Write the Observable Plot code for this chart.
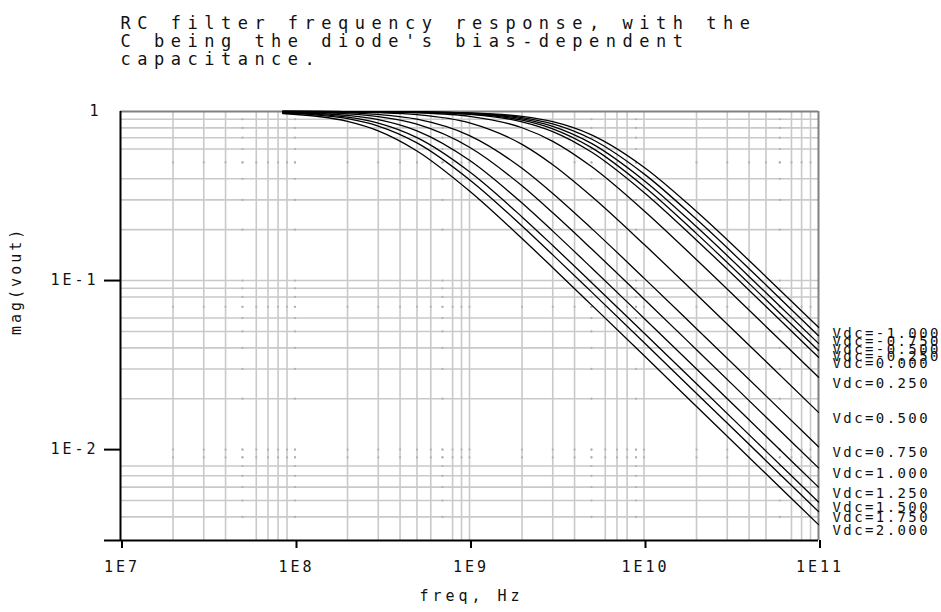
<!DOCTYPE html>
<html><head><meta charset="utf-8">
<script src="https://cdn.jsdelivr.net/npm/d3@7"></script>
<script src="https://cdn.jsdelivr.net/npm/@observablehq/plot@0.6"></script>
<style>
body{margin:0;background:#fff;}
svg text{font-family:"DejaVu Sans Mono",monospace;letter-spacing:3px;fill:#111;}
</style></head>
<body><div id="chart"></div>
<script>
// ---- data ----
const freqs = [8.5e7, 2e8, 3e8, 5e8, 1e9, 2e9, 3e9, 5e9, 1e10, 2e10, 5e10, 1e11];
const vdcLabels = ["Vdc=-1.000","Vdc=-0.750","Vdc=-0.500","Vdc=-0.250","Vdc=0.000","Vdc=0.250","Vdc=0.500","Vdc=0.750","Vdc=1.000","Vdc=1.250","Vdc=1.500","Vdc=1.750","Vdc=2.000"];
const magVm1000 = [1.000,0.9993,0.9984,0.9956,0.9827,0.9356,0.8703,0.7274,0.4683,0.2562,0.1054,0.0529];
const magVm0750 = [0.9998,0.9991,0.9980,0.9945,0.9784,0.9211,0.8445,0.6872,0.4276,0.2302,0.0942,0.0472];
const magVm0500 = [0.9998,0.9989,0.9975,0.9932,0.9734,0.9048,0.8169,0.6476,0.3911,0.2079,0.0847,0.0425];
const magVm0250 = [0.9998,0.9987,0.9970,0.9917,0.9680,0.8879,0.7896,0.6111,0.3601,0.1895,0.0770,0.0386];
const magV0000 = [0.9997,0.9984,0.9964,0.9901,0.9619,0.8695,0.7611,0.5756,0.3320,0.1733,0.0702,0.0352];
const magV0250 = [0.9995,0.9972,0.9938,0.9830,0.9369,0.8014,0.6662,0.4724,0.2589,0.1328,0.0535,0.0268];
const magV0500 = [0.9987,0.9928,0.9841,0.9575,0.8566,0.6387,0.4841,0.3151,0.1638,0.0827,0.0332,0.0166];
const magV0750 = [0.9967,0.9820,0.9608,0.9012,0.7208,0.4614,0.3275,0.2036,0.1034,0.0519,0.0208,0.0104];
const magV1000 = [0.9941,0.9687,0.9333,0.8419,0.6150,0.3633,0.2516,0.1541,0.0778,0.0390,0.0156,0.0078];
const magV1250 = [0.9901,0.9487,0.8944,0.7682,0.5145,0.2873,0.1961,0.1191,0.0599,0.0300,0.0120,0.0060];
const magV1500 = [0.9853,0.9258,0.8529,0.6999,0.4400,0.2380,0.1612,0.0975,0.0489,0.0245,0.0098,0.0049];
const magV1750 = [0.9810,0.9067,0.8201,0.6520,0.3950,0.2102,0.1419,0.0857,0.0430,0.0215,0.0086,0.0043];
const magV2000 = [0.9732,0.8742,0.7682,0.5843,0.3387,0.1772,0.1191,0.0718,0.0360,0.0180,0.0072,0.0036];
const magSeries = [magVm1000,magVm0750,magVm0500,magVm0250,magV0000,magV0250,magV0500,magV0750,magV1000,magV1250,magV1500,magV1750,magV2000];

const xTicks = [1e7, 1e8, 1e9, 1e10, 1e11];
const xTickLabels = ["1E7", "1E8", "1E9", "1E10", "1E11"];
const yTicks = [1, 0.1, 0.01];
const yTickLabels = ["1", "1E-1", "1E-2"];
const yMin = 0.0029;
const xGridSolid = [2e7,3e7,4e7,6e7,7e7,8e7,9e7,2e8,3e8,4e8,5e8,6e8,8e8,9e8,1e9,2e9,3e9,4e9,6e9,7e9,8e9,1e10,2e10,3e10,4e10,5e10,7e10,8e10,9e10];
const xGridDotted = [5e7,1e8,7e8,5e9,9e9,6e10];
const yGridSolid = [0.9,0.8,0.7,0.6,0.4,0.3,0.2,0.1,0.09,0.08,0.06,0.05,0.04,0.03,0.02,0.008,0.007,0.006,0.005,0.004];
const yGridDotted = [0.5,0.07,0.01,0.009];
const titleLines = ["RC filter frequency response, with the", "C being the diode's bias-dependent", "capacitance."];
const xLabel = "freq, Hz";
const yLabel = "mag(vout)";

// ---- build tables ----
const rows = vdcLabels.flatMap((v, i) => freqs.map((f, j) => ({vdc: v, f, mag: magSeries[i][j]})));
const ends = vdcLabels.map((v, i) => ({vdc: v, f: freqs[freqs.length - 1], mag: magSeries[i][freqs.length - 1]}));
const xAll = [...xGridSolid, ...xGridDotted];
const yAll = [...yGridSolid, ...yGridDotted];
const dots = [
  ...xGridDotted.flatMap(x => yAll.map(y => ({x, y}))),
  ...yGridDotted.flatMap(y => xAll.map(x => ({x, y})))
];
const xLab = new Map(xTicks.map((t, i) => [t, xTickLabels[i]]));
const yLab = new Map(yTicks.map((t, i) => [t, yTickLabels[i]]));
const grid = "#c9c9c9";

const chart = Plot.plot({
  width: 941, height: 612,
  marginLeft: 120, marginRight: 123, marginTop: 111, marginBottom: 72,
  x: {type: "log", domain: [1e7, 1e11]},
  y: {type: "log", domain: [yMin, 1]},
  style: {fontFamily: "DejaVu Sans Mono", fontSize: "15px", background: "white", color: "#111"},
  marks: [
    Plot.ruleX(xGridSolid, {stroke: grid, strokeWidth: 1.6}),
    Plot.ruleY(yGridSolid, {stroke: grid, strokeWidth: 1.6}),
    Plot.dot(dots, {x: "x", y: "y", r: 1.1, fill: "#b0b0b0", stroke: null}),
    Plot.ruleY([1], {stroke: "#808080", strokeWidth: 2}),
    Plot.ruleX([1e11], {stroke: "#808080", strokeWidth: 2}),
    Plot.line(rows, {x: "f", y: "mag", z: "vdc", curve: "monotone-x", stroke: "#000", strokeWidth: 1.3}),
    Plot.ruleX([1e7], {stroke: "#000", strokeWidth: 2}),
    Plot.ruleY([yMin], {stroke: "#000", strokeWidth: 2}),
    Plot.axisX({ticks: xTicks, tickFormat: d => xLab.get(d), tickSize: 8, tickPadding: 13, stroke: "#000", strokeWidth: 2, fontSize: 15, dx: 1.5, label: null}),
    Plot.axisY({ticks: [0.1, 0.01, yMin], tickFormat: d => yLab.get(d) ?? "", tickSize: 16, tickPadding: 6, stroke: "#000", strokeWidth: 2, fontSize: 15, label: null}),
    Plot.axisY({ticks: [1], tickFormat: d => yLab.get(d), tickSize: 0, tickPadding: 19, fontSize: 15, label: null}),
    Plot.text(ends, {x: "f", y: "mag", text: "vdc", textAnchor: "start", dx: 14, dy: 6, fontSize: 14}),
    Plot.text([titleLines.join("\n")], {frameAnchor: "top-left", textAnchor: "start", lineAnchor: "top", lineHeight: 18 / 17, fontSize: 17, dy: -95}),
    Plot.text([xLabel], {frameAnchor: "bottom", dy: 60, dx: 2, fontSize: 15}),
    Plot.text([yLabel], {frameAnchor: "left", rotate: -90, dx: -104.5, dy: 9, fontSize: 15})
  ]
});
document.getElementById("chart").append(chart);

// per-text letter spacing
d3.select(chart).selectAll("text").each(function () {
  const t = this.textContent;
  if (t.startsWith(titleLines[0])) this.style.letterSpacing = "6.5px";
  else if (vdcLabels.includes(t)) this.style.letterSpacing = "2.4px";
  else if (t === xLabel) this.style.letterSpacing = "4px";
});
</script>
</body></html>
